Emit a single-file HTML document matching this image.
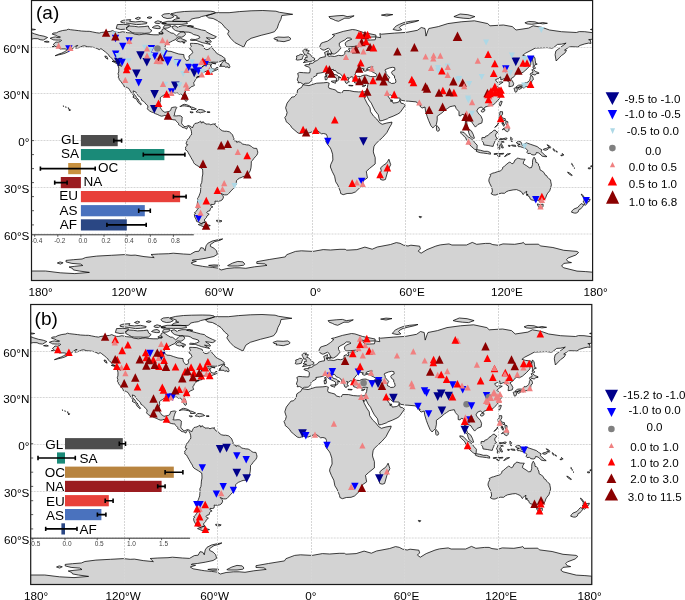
<!DOCTYPE html>
<html><head><meta charset="utf-8"><style>
html,body{margin:0;padding:0;background:#fff;}
body{width:685px;height:600px;overflow:hidden;}
svg{display:block;font-family:"Liberation Sans",sans-serif;will-change:transform;}
</style></head><body>
<svg width="685" height="600" viewBox="0 0 685 600">
<defs><g id="land"><path d="M50.1,38.3L52.9,37.3L55.7,36.9L57.0,37.5L59.9,37.7L60.4,36.9L57.1,36.1L55.7,35.2L52.1,34.1L53.1,33.1L56.5,32.8L58.7,31.6L62.7,30.5L66.6,30.0L68.2,29.2L70.5,29.7L74.9,30.2L78.3,30.6L81.4,31.0L86.1,31.3L89.2,31.3L92.3,31.9L96.2,32.7L99.3,33.1L101.7,32.4L104.0,32.2L107.1,31.7L110.3,31.4L112.6,30.6L114.9,31.7L117.3,32.4L119.6,32.4L122.7,31.7L127.4,32.7L132.1,33.1L134.4,34.1L139.1,34.8L143.0,34.2L146.1,33.9L150.0,34.5L153.9,34.8L158.6,34.8L160.1,33.8L162.5,34.1L163.2,33.0L161.7,31.4L162.1,29.5L164.0,28.5L166.3,29.9L167.9,31.1L169.5,32.0L171.0,33.0L173.4,33.3L174.9,34.5L176.5,35.8L178.8,33.8L180.4,32.2L183.5,31.7L185.0,32.7L185.4,34.5L184.3,35.8L181.9,37.2L178.3,36.9L176.8,37.7L175.7,39.5L172.6,40.8L170.7,41.9L167.9,43.1L165.6,45.4L164.8,47.3L165.3,48.9L167.4,51.1L171.0,51.4L174.1,52.5L178.8,54.0L183.8,54.6L184.0,57.1L185.0,58.7L186.5,60.6L188.5,60.2L189.3,58.7L188.9,56.0L191.3,54.3L192.7,52.5L191.7,50.1L189.7,48.9L191.3,46.7L190.5,44.7L190.5,43.3L193.6,43.4L197.5,43.6L200.6,44.7L203.0,45.4L203.7,47.8L205.3,49.2L206.9,49.7L209.2,48.9L210.8,47.3L211.7,46.5L213.1,49.3L215.4,51.4L216.2,52.9L218.6,54.5L221.7,55.9L223.2,57.1L225.1,58.5L224.8,59.8L223.1,60.4L219.3,61.8L216.2,62.3L213.1,62.1L210.0,62.3L208.4,62.6L206.9,63.7L205.0,64.3L203.4,65.7L201.7,67.3L203.7,66.0L205.6,64.9L208.4,64.0L211.5,64.1L212.0,64.5L211.1,65.2L210.0,65.7L211.1,66.3L211.4,67.3L211.9,68.4L213.1,68.8L215.4,69.3L216.2,67.7L217.9,67.4L218.6,68.8L217.0,69.8L213.9,71.0L211.5,72.1L209.7,72.7L209.0,71.5L211.5,69.9L210.4,70.1L209.2,70.1L207.6,70.8L206.1,71.3L204.5,71.9L202.7,72.6L201.9,73.6L202.0,74.1L201.4,74.6L202.2,75.4L203.0,75.1L203.0,75.5L202.0,75.8L200.8,76.0L199.1,76.3L197.2,76.9L196.7,77.4L196.7,78.5L196.0,79.3L195.3,79.9L195.0,80.5L194.4,81.9L193.6,82.8L193.8,83.6L194.4,85.5L193.2,86.1L191.3,86.7L190.5,87.7L188.6,88.8L187.4,89.5L185.8,90.6L185.2,92.2L185.4,94.1L186.5,96.2L187.2,99.0L187.1,100.6L186.6,101.2L185.7,101.2L184.7,99.7L184.0,98.7L183.2,97.5L183.0,96.1L181.8,94.4L180.7,93.8L179.1,94.2L177.7,93.1L175.7,93.3L174.6,93.1L172.7,93.3L172.4,93.8L173.0,94.8L172.7,95.3L171.0,95.2L169.5,94.5L167.9,94.4L165.9,94.2L164.3,94.7L163.2,95.6L161.5,96.6L160.4,97.5L160.3,99.2L160.6,100.3L160.0,102.3L159.8,105.4L160.4,107.8L161.7,109.6L162.3,110.7L164.0,111.7L164.8,112.3L167.1,111.8L169.0,111.5L170.6,110.4L171.2,108.7L171.3,107.8L172.9,107.3L174.9,107.0L176.3,107.0L176.8,107.6L175.9,109.0L175.5,110.3L175.1,111.7L174.6,113.1L174.5,114.9L173.7,115.7L174.9,115.9L176.6,115.9L178.8,115.7L180.7,115.9L182.2,117.1L182.1,118.7L181.9,121.0L181.6,122.6L181.8,123.7L182.7,124.9L184.0,126.2L185.0,126.8L186.6,126.3L188.2,125.5L189.7,125.9L191.4,126.9L192.4,128.0L193.3,126.0L194.2,124.4L194.9,123.5L196.3,123.2L197.8,122.9L199.4,122.0L200.6,121.2L201.3,122.1L200.9,122.9L202.5,122.6L203.0,121.5L203.6,122.6L205.5,123.5L205.8,124.1L207.6,124.0L209.2,124.0L210.8,124.8L211.9,124.3L213.1,124.0L215.0,124.0L215.6,123.8L214.7,124.4L215.4,125.1L217.0,127.1L218.6,127.3L219.6,128.7L220.9,129.9L222.4,130.8L224.8,131.3L226.3,131.2L227.9,131.5L229.5,131.9L231.0,133.2L231.8,134.0L232.6,135.0L233.4,137.4L234.1,138.9L233.4,140.5L234.9,140.8L236.5,141.0L236.8,142.5L238.0,141.6L240.4,142.2L242.7,144.1L244.3,144.4L246.6,144.9L248.9,145.0L251.3,146.4L252.8,147.7L254.1,148.3L256.7,148.4L257.4,150.6L257.8,152.2L257.5,153.7L256.7,155.3L255.2,156.9L253.9,158.4L252.5,160.4L251.3,161.5L251.3,163.9L251.0,167.8L250.2,170.9L248.9,172.9L248.2,174.8L246.6,176.2L244.7,176.3L242.7,176.8L241.1,177.6L239.6,178.1L238.0,179.1L236.5,180.7L236.3,182.6L236.0,184.9L234.4,186.5L233.4,188.5L231.8,190.1L230.2,191.9L228.7,193.5L227.6,194.6L226.3,194.9L224.3,194.9L222.4,194.1L221.0,193.5L222.8,195.5L223.5,197.1L222.8,198.9L222.0,200.0L220.1,201.0L216.2,201.3L215.0,201.0L215.1,202.8L214.7,204.1L213.1,204.5L210.8,204.4L210.8,205.9L212.0,206.3L212.9,207.0L211.5,207.4L210.3,208.8L210.0,210.6L207.6,211.4L206.7,212.6L207.6,213.4L209.2,214.2L206.9,216.1L206.4,217.6L205.3,218.7L204.2,220.0L205.5,222.0L203.7,222.3L202.2,222.8L201.4,223.9L200.6,223.1L199.1,222.3L196.7,221.5L196.0,219.2L194.7,216.9L194.4,214.5L195.5,213.4L194.4,213.0L196.0,211.4L197.2,209.8L198.3,208.3L198.6,206.7L197.5,205.6L197.2,204.4L197.5,202.1L197.8,199.7L197.5,198.5L198.3,197.4L199.1,195.8L199.9,193.5L200.5,191.9L200.6,189.6L200.9,187.2L200.6,184.9L201.7,182.6L202.0,180.2L202.2,177.1L202.8,174.0L202.7,170.9L202.5,169.0L200.8,167.9L199.1,166.7L196.7,165.3L194.9,164.2L193.6,162.6L193.2,161.2L191.9,159.2L191.0,157.6L189.7,155.3L188.2,152.7L187.4,151.1L185.5,149.8L185.7,148.3L185.4,147.2L186.9,145.8L187.7,144.6L186.9,144.6L186.0,143.9L186.5,142.1L187.1,141.0L187.4,139.6L188.6,138.8L189.3,137.9L189.7,136.6L191.3,135.0L191.6,133.5L191.4,131.2L190.8,129.3L190.0,127.7L188.8,126.5L188.0,126.8L187.2,127.6L186.8,129.1L185.7,128.5L184.6,127.9L183.0,127.6L181.8,127.1L180.4,125.7L179.3,125.2L178.5,124.6L178.5,123.4L177.3,122.1L175.7,120.6L175.4,119.8L174.1,119.9L172.1,119.5L170.2,118.8L168.4,117.9L166.7,116.2L164.9,115.3L163.2,115.9L161.7,116.2L159.6,115.6L157.8,114.6L155.4,113.7L153.4,112.6L151.5,112.0L149.7,111.0L148.4,110.1L147.3,108.7L148.0,107.0L147.5,105.4L146.2,104.3L144.5,102.3L143.3,101.1L141.7,100.3L141.4,98.7L139.7,97.2L138.1,95.6L137.1,94.1L135.7,91.9L133.2,90.9L133.3,92.5L133.9,94.1L135.7,95.8L136.4,97.5L138.1,99.0L138.8,100.8L139.7,102.3L140.8,103.3L141.4,104.3L140.6,104.8L139.7,103.7L138.0,102.3L137.2,100.8L136.7,99.2L134.1,98.0L132.8,97.0L134.1,96.1L132.8,94.5L131.6,93.1L130.5,91.4L129.6,89.9L128.9,88.6L127.5,87.8L126.9,87.5L125.8,86.9L124.1,86.6L123.8,85.2L122.1,83.5L121.3,82.1L120.7,81.3L119.3,79.7L119.0,78.2L118.2,77.5L118.7,75.5L118.0,73.8L118.7,71.9L118.8,68.8L118.5,66.9L117.7,65.1L119.6,65.5L120.7,65.7L121.3,66.5L121.0,64.9L120.2,64.1L119.9,63.4L118.0,62.6L116.5,61.8L114.1,61.0L112.9,59.8L111.8,58.2L110.3,57.1L109.0,55.9L108.7,54.8L107.1,53.5L105.6,52.1L104.0,50.9L102.5,49.7L100.9,48.6L99.3,49.7L97.8,48.9L95.4,47.8L93.1,47.3L90.8,47.0L87.7,46.8L84.5,45.8L82.2,46.2L80.6,47.0L78.3,47.8L75.7,48.2L76.3,47.0L77.8,45.4L76.0,45.8L74.7,47.0L72.9,48.1L72.1,49.3L69.7,50.4L68.2,51.7L65.8,52.9L63.5,53.7L61.2,54.3L58.8,54.8L56.8,55.3L55.2,55.7L57.3,54.8L59.6,53.7L61.9,53.1L64.3,51.8L66.2,50.7L67.4,49.5L65.1,48.9L61.9,48.9L59.9,49.0L59.3,47.8L57.3,47.3L55.2,46.4L54.3,45.3L53.2,44.5L54.9,43.1L55.7,42.0L58.0,42.2L60.4,41.5L61.5,40.3L60.5,40.0L58.4,40.1L55.7,40.0L53.1,39.8L52.1,39.1ZM216.1,12.7L229.1,12.7L239.3,11.6L251.1,10.8L262.8,10.5L275.9,11.2L279.5,12.3L292.7,14.3L281.8,15.5L280.9,19.3L278.7,23.6L277.3,28.0L274.5,31.7L270.0,33.1L261.2,35.3L251.1,38.3L246.6,41.2L243.8,47.0L240.8,45.6L234.9,42.6L230.7,38.3L227.6,33.9L229.1,31.0L225.4,28.0L221.8,23.6L217.5,20.7L213.1,18.5L208.7,17.9L206.1,15.8L212.3,14.0ZM273.9,38.4L277.8,37.0L284.0,37.3L288.7,36.9L291.0,38.7L289.5,40.1L284.0,41.7L279.3,41.1L276.7,40.9L277.8,40.0L274.7,39.4ZM216.4,36.7L213.1,35.3L210.0,33.8L206.9,32.2L205.2,30.6L201.4,29.9L197.5,28.8L191.3,27.2L190.5,25.8L187.4,25.7L182.7,25.7L178.8,26.7L178.0,27.5L174.9,25.7L171.8,26.7L173.4,29.1L175.7,30.6L178.8,31.4L181.2,31.6L184.3,32.0L188.9,32.2L191.3,33.0L193.6,34.5L196.7,35.3L199.1,36.1L199.9,37.7L197.5,38.9L195.2,39.5L191.3,39.2L190.2,40.0L192.1,40.5L196.0,40.3L199.1,41.5L202.2,42.6L205.3,43.3L208.4,44.0L210.4,44.4L208.4,43.0L205.3,41.2L208.4,41.5L210.8,42.3L211.4,41.9L210.0,40.0L208.4,39.2L206.4,37.7L210.0,38.1L213.1,38.7L215.4,37.7ZM126.6,27.5L129.6,26.0L134.2,26.3L138.3,26.9L144.1,26.6L148.3,26.0L149.4,28.9L152.0,30.6L149.4,33.0L144.7,33.3L141.4,33.1L135.3,33.1L132.4,32.7L129.6,31.0L126.6,29.5ZM116.2,28.5L117.3,24.6L123.7,24.3L129.6,25.0L127.2,27.2L124.7,29.2L120.8,29.5ZM120.8,21.3L123.7,20.2L130.7,19.6L129.6,21.3L135.3,21.9L141.3,21.3L147.0,22.5L146.6,23.6L141.3,24.3L136.4,24.6L129.6,23.5L123.7,22.8L120.8,22.2ZM135.3,18.5L138.3,17.2L140.6,18.0L138.3,19.6ZM154.7,22.1L157.8,20.8L161.7,21.8L159.3,23.6L155.4,23.2ZM152.3,27.5L154.7,26.0L157.8,25.5L160.1,26.7L160.1,28.6L157.0,28.6L153.9,28.0ZM163.2,27.5L164.8,25.2L170.2,25.2L171.0,26.4L167.9,28.0L164.8,28.3ZM161.7,22.8L167.9,21.3L174.9,21.3L181.2,21.3L186.6,21.8L187.4,23.6L181.9,24.4L174.1,24.4L167.9,24.3L164.0,23.6ZM172.6,21.3L182.7,21.6L188.9,21.4L190.5,20.5L191.3,19.1L195.2,18.2L199.1,17.7L201.4,16.6L206.1,15.5L209.2,14.7L212.3,13.8L215.4,12.7L214.7,11.9L210.8,11.2L203.0,11.0L192.1,11.2L184.3,11.5L176.5,12.4L171.0,13.8L174.1,15.1L177.3,16.1L176.5,17.4L179.6,18.2L175.7,19.0L173.4,20.0ZM161.7,15.5L164.0,14.0L169.5,13.5L171.8,15.1L174.1,16.6L171.0,18.2L167.1,18.5L163.2,17.4ZM176.5,40.5L178.0,38.4L180.4,38.0L181.9,38.9L185.0,40.0L186.6,41.1L183.5,41.2L180.4,42.0L178.0,41.4ZM158.6,33.0L160.9,31.7L162.5,32.4L162.8,33.6L160.1,33.8ZM147.0,17.7L149.2,16.8L152.0,17.4L150.0,18.5ZM161.7,23.6L164.0,22.8L166.3,23.3L164.0,24.3ZM187.4,26.3L190.5,25.5L193.6,26.3L190.5,26.9ZM182.7,42.5L185.0,42.5L184.3,43.3ZM205.2,222.5L205.6,223.4L206.9,224.6L210.3,225.6L208.4,226.2L205.3,226.7L203.0,226.5L200.6,225.6L198.3,224.6L199.9,223.9L202.2,224.0L203.7,222.6ZM216.5,220.3L219.3,220.3L222.0,220.9L220.9,221.8L217.8,221.8L216.5,221.2ZM196.7,205.6L197.5,205.6L197.5,208.0L196.4,208.0ZM112.0,61.3L114.1,62.1L117.3,64.1L119.9,65.2L118.8,64.1L117.3,62.6L114.1,61.3ZM104.8,56.0L106.8,56.4L107.9,59.2L105.6,57.9ZM219.5,66.3L221.7,64.9L220.1,64.9L221.8,63.4L222.9,61.5L225.6,60.1L225.1,61.8L227.1,63.2L228.7,63.8L229.5,65.7L229.9,66.5L229.5,67.7L227.9,67.6L227.6,66.6L225.6,67.4L224.8,66.3L220.9,66.3ZM211.5,62.7L215.7,63.5L215.9,64.0L212.3,63.2ZM179.8,106.4L180.7,106.2L182.7,104.8L184.3,104.3L186.6,104.7L188.9,105.6L191.3,107.0L193.6,107.6L196.4,109.0L195.5,109.5L191.3,109.5L191.7,108.6L189.7,106.8L186.6,106.2L184.6,105.9L182.7,105.9L180.4,106.5ZM196.1,111.8L198.6,109.5L200.6,109.5L203.1,110.0L205.5,111.5L203.7,112.0L201.4,112.5L200.5,112.9L198.6,112.3L196.1,112.0ZM190.0,111.8L193.2,112.1L193.0,112.6L191.3,112.8L190.0,112.1ZM207.2,111.7L209.8,111.8L209.8,112.5L207.3,112.5ZM196.7,77.2L199.9,76.5L200.0,76.6L197.5,77.2ZM69.1,109.0L70.5,109.8L69.6,111.0L69.0,110.0ZM592.5,32.7L584.8,31.7L579.3,31.6L576.3,32.5L561.4,31.7L549.5,30.0L542.1,27.4L533.2,25.8L528.7,28.1L516.0,30.0L512.3,26.6L503.4,25.0L490.0,25.8L487.7,23.6L474.4,20.8L461.2,21.8L447.8,23.6L438.3,26.6L428.8,28.5L428.0,30.3L426.0,36.1L425.0,28.5L421.3,27.5L417.4,30.3L406.2,32.4L394.6,33.1L381.4,34.2L379.8,33.6L380.6,37.7L375.9,36.9L375.2,39.8L370.5,40.0L365.8,40.0L362.7,36.1L368.1,37.2L375.9,36.9L375.9,35.0L363.5,32.5L355.7,29.9L352.3,29.5L343.2,31.4L335.4,33.8L332.3,34.5L334.6,35.6L331.5,38.4L327.6,41.1L323.7,42.3L321.4,43.1L319.8,46.2L320.6,48.6L323.0,50.1L324.5,50.0L328.4,48.1L329.2,48.6L330.4,50.6L332.3,54.0L334.3,54.0L337.5,52.1L340.9,48.1L339.3,45.4L339.3,43.1L341.7,41.5L344.8,40.0L347.1,38.0L350.2,38.0L351.8,39.2L347.1,41.1L345.2,43.1L345.6,45.4L347.1,47.0L351.0,46.7L356.5,46.2L359.1,47.2L355.7,47.8L350.7,47.9L348.7,48.6L348.7,49.7L349.4,49.8L349.6,51.7L347.9,51.7L347.3,50.6L344.8,51.7L344.8,52.5L344.9,53.7L343.2,55.3L341.2,55.7L338.5,55.3L334.6,56.5L330.7,56.0L329.2,56.4L327.9,55.7L327.3,54.8L328.1,52.5L328.4,50.6L324.5,52.5L325.3,54.8L325.3,56.8L323.0,57.1L319.5,58.1L318.6,59.5L317.5,60.2L316.1,60.9L314.9,61.0L314.4,62.1L312.2,63.4L309.6,63.1L309.7,64.8L307.4,64.5L304.7,65.1L305.3,66.0L308.2,66.8L310.2,68.5L310.0,71.2L309.6,72.9L307.4,72.9L303.5,72.7L299.6,72.4L297.6,73.5L298.2,75.1L298.3,76.6L297.2,80.0L298.3,81.3L298.0,82.8L300.4,82.5L302.2,83.6L303.3,84.4L305.2,83.3L308.9,83.2L310.5,81.9L311.3,80.8L312.4,80.0L311.6,78.9L313.3,77.1L315.5,76.0L317.0,75.1L316.7,73.5L320.3,73.0L323.4,72.4L325.9,71.3L327.3,71.8L328.4,73.5L329.2,74.4L331.2,75.5L334.3,76.9L336.4,78.2L336.4,81.3L337.8,80.7L338.9,79.7L338.5,77.4L340.9,78.0L340.1,77.1L338.4,76.5L337.3,75.2L333.9,74.3L333.1,72.6L331.2,71.2L331.2,69.8L333.4,69.3L333.6,70.7L335.4,70.4L337.0,72.7L339.3,73.5L340.3,74.1L341.7,75.1L342.4,76.6L342.3,78.2L343.5,78.9L344.8,80.5L345.6,82.8L347.1,83.6L347.9,82.1L349.4,81.8L347.9,80.5L348.7,78.9L347.4,77.4L349.4,78.2L351.0,76.8L352.6,76.9L353.3,77.9L352.9,78.9L353.8,80.5L354.6,82.8L356.5,83.3L358.8,84.1L359.9,83.0L362.7,84.2L365.8,83.2L368.5,83.5L367.8,84.7L367.4,87.5L366.4,89.9L365.5,91.7L362.4,91.9L358.6,91.9L354.1,91.6L349.4,90.6L343.4,90.5L341.7,93.3L337.0,91.9L335.7,90.0L332.6,89.2L329.2,88.3L328.4,86.7L329.2,83.2L327.9,82.8L327.3,82.4L323.7,82.8L316.7,83.2L311.1,84.9L308.9,85.6L303.0,84.7L301.5,87.5L300.2,88.1L297.6,89.9L297.1,93.1L295.7,95.3L294.1,96.9L291.9,97.0L289.5,100.0L287.1,103.1L285.6,107.8L286.3,110.1L287.1,112.5L286.3,115.6L284.8,117.6L285.9,120.2L286.0,121.5L287.9,123.0L290.7,125.7L291.5,127.4L294.1,129.7L298.0,133.0L300.2,133.6L304.3,132.4L308.9,133.0L312.1,131.8L313.9,131.0L317.3,130.5L321.4,133.8L323.7,133.5L326.4,134.3L327.3,136.6L326.9,140.5L325.8,141.6L327.6,144.4L330.4,148.0L331.2,149.8L332.6,154.2L332.9,160.0L330.7,164.7L330.4,167.0L332.3,171.7L334.6,176.2L335.7,181.8L337.8,185.1L339.3,188.8L340.4,191.6L340.7,193.5L343.2,194.7L347.1,193.5L351.9,193.3L355.5,191.9L360.4,187.1L362.7,184.9L362.9,181.0L367.4,177.9L367.4,177.7L366.6,173.2L366.3,171.4L369.6,168.4L375.2,163.9L375.2,157.6L373.6,153.0L373.3,151.1L373.9,146.7L375.2,144.4L378.3,141.3L382.6,137.4L386.8,132.7L389.2,128.0L391.5,124.1L392.0,122.1L386.8,123.0L382.2,124.3L379.4,122.6L376.7,119.0L373.6,116.2L370.5,111.7L370.0,107.8L367.4,103.9L365.0,99.2L362.9,93.9L364.3,96.6L365.5,97.3L366.6,94.5L367.4,96.9L368.9,100.0L371.3,103.1L373.1,107.0L375.2,110.9L378.3,114.8L379.1,118.7L379.8,120.9L382.2,120.6L387.6,118.7L388.6,117.9L393.1,116.2L397.8,114.0L400.1,112.5L405.2,105.4L403.4,103.7L400.9,103.1L399.9,99.4L399.3,101.5L397.0,102.6L393.1,103.1L392.5,101.5L392.3,100.0L391.5,99.8L391.2,101.9L390.3,99.4L386.8,94.5L387.6,93.8L389.2,93.8L390.7,95.0L391.2,95.5L393.9,97.8L399.8,98.1L401.3,100.3L406.5,101.1L408.7,101.2L416.5,101.9L417.2,103.1L418.8,103.9L421.1,105.4L419.6,105.7L421.9,108.1L425.0,107.0L425.5,110.9L427.1,116.3L428.6,120.4L430.9,125.7L432.8,127.9L434.4,126.5L436.4,124.4L437.2,120.2L437.2,116.3L440.3,114.0L441.9,112.9L445.0,110.1L447.3,108.6L450.0,106.7L452.3,106.2L455.1,105.7L456.2,108.6L459.0,111.7L459.0,115.6L460.9,115.9L462.0,114.3L464.1,114.8L465.5,120.2L465.2,124.9L465.2,128.0L468.3,130.4L468.7,132.7L469.9,135.8L473.3,138.5L474.4,138.2L473.2,134.3L471.3,130.8L468.3,128.8L467.1,124.9L466.6,121.0L468.7,119.5L469.4,120.7L471.8,121.8L472.6,123.4L475.4,127.1L478.0,124.4L481.9,122.9L482.4,119.5L481.1,116.3L480.7,115.6L479.6,114.8L478.0,112.8L476.8,110.9L478.3,108.2L481.1,107.0L483.8,108.9L485.0,107.0L488.1,106.2L490.0,105.7L493.6,104.8L495.9,102.3L498.3,100.0L499.8,97.6L502.0,94.1L501.9,92.2L500.6,90.6L499.8,88.3L497.8,86.3L499.5,84.4L503.1,82.2L500.6,81.8L497.5,82.5L495.9,80.5L495.5,79.7L498.3,78.5L500.6,76.9L500.9,80.0L504.5,78.5L506.1,78.6L506.8,80.5L509.2,82.1L509.2,84.4L508.9,86.7L511.5,86.3L513.1,85.8L513.7,83.6L512.4,81.0L510.7,78.9L514.2,76.6L515.6,74.4L517.6,73.3L520.1,73.8L523.2,72.2L527.1,68.8L530.7,64.9L531.0,61.0L532.5,58.2L531.8,57.1L526.3,56.4L522.7,55.3L525.5,53.2L531.0,50.4L535.2,48.1L547.0,47.6L552.0,48.2L553.6,47.6L557.5,44.4L561.4,44.2L566.1,43.1L562.2,46.1L555.9,50.9L555.1,54.8L556.2,61.0L559.2,57.9L561.4,55.6L564.8,53.2L566.5,50.4L564.5,50.1L568.7,47.3L570.7,46.7L577.7,47.0L580.1,45.4L584.8,43.9L588.6,43.1L591.0,43.4L590.2,40.0L588.6,39.7L592.5,39.2ZM31.6,32.7L34.7,33.9L39.3,35.3L44.0,36.2L47.6,37.5L46.4,38.3L43.2,40.1L40.1,39.7L37.8,38.7L33.9,38.6L31.6,39.2ZM590.4,29.5L592.5,28.9L592.5,30.0ZM31.6,28.9L35.5,29.5L33.1,30.0L31.6,30.0ZM328.9,16.6L337.0,15.8L343.2,15.4L347.1,16.6L354.1,15.8L349.4,18.2L344.8,18.2L338.5,21.3L335.4,20.5L333.1,19.3L330.0,18.2ZM393.1,29.5L394.6,27.5L396.2,26.0L399.3,24.4L404.0,22.5L410.2,21.3L418.8,20.5L414.9,21.8L408.7,23.2L404.0,24.4L400.9,26.0L399.3,27.5L401.7,29.9L397.8,30.5ZM453.9,16.6L460.1,14.0L467.9,14.7L474.9,16.6L469.4,18.6L463.2,18.2L457.0,17.4ZM524.9,22.8L528.7,21.4L534.9,21.8L539.1,23.3L531.8,24.3L527.1,23.9ZM539.1,23.2L542.7,22.5L547.4,23.3L542.7,23.9ZM381.4,15.1L386.8,14.1L392.8,14.6L386.8,16.0ZM533.3,55.9L534.9,57.9L535.2,60.2L535.7,63.7L537.2,64.1L535.2,64.5L534.1,66.5L535.7,68.0L534.1,68.8L533.0,68.0L533.3,65.7L533.0,62.6L532.5,59.5L533.0,57.1ZM531.8,69.8L533.3,69.6L535.7,71.6L538.8,72.7L538.8,73.5L536.4,73.6L535.2,75.1L532.5,74.3L531.0,75.8L530.2,74.3L531.0,73.0L532.5,73.0L532.9,71.2ZM531.6,75.8L532.5,76.3L533.2,78.2L533.3,79.7L531.8,80.8L531.6,82.8L531.3,84.9L530.2,86.0L529.9,85.8L529.0,85.6L528.3,86.6L526.3,86.6L525.2,86.9L524.3,87.8L523.7,88.3L522.7,87.1L521.2,86.4L519.3,86.9L517.7,87.7L516.2,87.5L516.2,86.7L518.5,85.2L520.9,85.0L523.2,85.2L524.3,84.1L525.2,82.4L526.0,82.8L527.9,82.1L529.4,80.5L530.1,78.9L530.2,77.4L530.7,76.3ZM514.3,88.1L516.2,87.7L517.4,89.1L517.0,91.4L515.7,92.2L514.9,91.7L514.6,89.9L514.0,88.8ZM518.5,89.1L517.7,87.7L520.1,87.1L521.8,87.2L522.0,87.8L520.9,88.5L519.3,89.4ZM500.6,101.2L502.2,101.5L501.4,103.9L500.3,106.2L499.4,105.0L499.2,103.4L500.3,101.9ZM481.3,110.6L482.7,109.2L484.6,109.2L485.0,110.0L484.2,111.4L482.7,112.1L481.4,111.7ZM500.0,111.7L502.5,111.7L502.6,114.0L501.4,115.9L502.2,117.9L505.3,118.7L505.3,120.9L503.7,120.2L501.9,119.0L500.0,118.4L499.0,117.4L498.7,115.1L499.7,114.8ZM502.2,129.6L504.5,128.0L506.1,127.3L507.6,125.2L509.2,127.3L508.9,130.4L507.6,131.8L505.3,130.7L504.2,128.8L502.5,129.7ZM506.1,121.0L507.9,121.8L507.6,124.6L506.4,124.9L505.7,123.0ZM502.2,122.1L503.7,122.7L502.9,124.1L502.0,124.0ZM503.4,123.5L504.5,124.1L504.0,126.3L502.8,125.2ZM494.7,127.4L497.5,124.6L498.4,122.9L498.0,124.6L495.5,127.1ZM499.5,119.5L501.1,119.6L501.1,121.3L500.1,121.0ZM481.9,137.7L482.8,137.4L485.0,137.7L485.5,136.3L488.1,135.5L489.7,133.5L492.0,132.2L493.6,130.4L495.2,130.1L495.9,131.2L497.8,132.4L496.2,133.5L495.5,135.0L495.9,136.9L497.5,138.6L495.9,139.3L495.2,140.5L494.4,142.8L493.6,144.4L493.1,146.4L490.5,146.0L488.1,145.5L485.8,145.2L483.8,144.9L483.5,142.8L482.4,141.3L481.9,139.7ZM460.6,131.8L464.0,132.4L465.9,134.6L468.5,137.1L470.2,137.9L473.3,140.5L474.9,142.8L477.2,145.2L476.9,149.5L474.9,149.7L473.3,148.0L471.5,146.7L469.4,144.4L468.3,142.1L466.6,140.2L465.7,137.9L464.0,136.1L462.4,134.7L460.9,133.2ZM476.0,151.1L477.2,149.7L480.7,150.3L484.1,151.3L487.4,151.3L490.3,152.5L490.5,154.2L487.4,153.6L483.5,153.1L480.3,152.7L478.0,152.0ZM494.1,153.7L497.5,153.4L497.2,154.2L494.2,154.5ZM498.7,153.7L503.7,153.3L503.4,154.1L498.9,154.2ZM504.5,156.6L507.1,153.9L510.4,153.6L507.6,155.0L505.3,156.4ZM497.5,155.3L500.3,155.8L499.8,156.6L497.5,155.8ZM498.1,149.1L499.8,149.2L499.7,145.2L500.6,144.6L501.9,148.0L503.4,147.8L502.2,145.2L501.1,143.3L502.9,141.9L504.2,142.1L501.4,141.3L500.0,139.7L503.7,139.1L506.1,139.7L507.1,138.2L505.7,138.0L502.9,138.9L500.3,138.5L499.0,139.7L498.7,141.3L498.0,143.3L497.2,144.9L498.3,146.0ZM510.7,137.1L511.8,138.2L512.6,138.9L511.5,140.0L512.3,141.7L511.2,141.3L510.7,139.3ZM511.5,145.0L515.4,145.3L515.9,146.4L512.3,146.0ZM508.4,145.3L510.3,145.5L510.0,146.4L508.6,146.3ZM516.2,142.8L518.5,141.1L520.9,141.9L522.4,145.6L526.3,142.8L530.2,144.2L534.1,145.5L537.2,146.6L539.3,148.3L541.9,149.8L541.1,151.7L542.7,153.0L545.0,155.3L547.0,156.6L545.0,156.7L541.9,156.1L541.4,155.3L538.8,153.0L536.4,152.5L535.7,154.5L534.1,155.0L531.8,154.7L530.2,153.3L527.9,153.6L526.8,152.2L527.9,150.6L525.5,148.3L522.4,147.4L520.1,146.6L518.5,146.7L517.7,144.9L520.1,144.4L518.1,143.9L516.5,142.8ZM543.5,149.1L546.6,148.3L548.9,147.0L549.2,148.1L548.1,149.2L545.8,150.3L543.5,149.8ZM547.0,144.7L549.7,146.0L550.8,147.5L550.2,148.0L548.1,146.0ZM567.6,172.0L569.9,173.2L572.3,175.3L571.5,175.6L568.4,173.5ZM588.3,167.8L590.5,167.9L590.2,168.9L588.3,168.7ZM67.9,107.9L69.0,108.1L68.3,108.4ZM65.4,106.8L66.3,107.2L65.7,107.3ZM63.0,105.9L63.8,106.1L63.3,106.4ZM44.3,41.7L47.1,41.1L49.2,41.9L47.1,42.3ZM52.1,46.7L54.2,46.4L54.0,47.2ZM553.0,148.6L555.0,150.3L554.5,151.3L553.3,149.8ZM560.8,155.0L562.6,155.3L562.2,155.9L560.9,155.6ZM562.3,153.4L563.9,155.0L563.4,155.3L562.3,154.1ZM555.9,150.8L557.5,151.9L557.0,152.2L555.9,151.4ZM571.7,163.4L572.6,164.2L572.1,164.8L571.5,164.2ZM572.6,165.3L573.5,165.9L573.1,166.4ZM574.2,167.8L574.8,168.1L574.3,168.4ZM590.7,165.9L592.4,165.7L591.8,166.7L590.8,166.7ZM419.1,216.4L421.6,216.7L420.8,217.8L419.6,217.5ZM581.2,194.1L583.2,195.5L584.4,197.8L585.5,198.2L586.3,199.2L587.9,199.6L590.2,199.2L589.4,201.3L587.9,201.7L587.6,203.1L585.2,205.3L584.3,204.9L584.3,202.8L582.9,201.7L584.1,200.7L584.0,198.2L582.1,195.8ZM581.2,203.6L583.7,204.7L583.2,205.9L581.6,207.8L580.9,208.8L579.0,209.5L578.2,211.9L576.2,213.1L574.3,213.1L571.5,212.2L572.0,210.9L573.8,209.1L577.7,207.5L579.3,205.6ZM489.9,174.5L490.6,175.6L489.1,178.7L488.8,181.0L489.7,183.4L491.3,186.5L492.3,189.9L492.3,192.4L491.3,192.9L491.3,193.9L493.7,195.0L495.9,195.0L498.3,193.9L501.4,193.2L504.5,193.3L506.1,191.9L508.4,190.8L513.1,189.9L516.5,189.6L518.5,190.4L521.2,191.6L523.2,194.6L524.0,193.5L525.5,191.9L526.8,191.3L526.3,193.2L526.6,195.4L527.9,194.7L527.4,193.9L527.9,196.0L529.4,196.6L530.2,198.9L531.0,199.7L533.3,200.3L535.7,201.0L537.2,200.2L538.0,200.5L540.0,201.4L541.9,200.0L545.0,198.9L545.8,197.4L546.6,195.0L547.7,193.2L549.7,190.8L550.6,188.0L551.4,184.9L550.8,181.8L550.5,179.8L548.9,178.7L547.4,177.1L546.6,175.6L545.0,174.8L543.9,172.4L541.9,170.9L540.0,169.8L539.6,167.0L538.6,165.4L538.5,163.9L537.2,162.8L535.8,162.3L535.7,160.0L534.1,157.2L533.3,158.4L532.7,160.1L532.5,162.3L532.5,164.7L531.5,167.6L529.4,167.8L526.8,165.9L524.8,164.7L523.2,163.6L523.7,161.5L524.9,159.5L525.2,159.2L523.7,159.2L520.9,159.0L518.8,158.4L517.4,158.0L516.2,159.5L514.9,160.1L513.8,162.8L512.0,163.9L510.7,162.5L509.2,162.2L508.1,163.1L506.1,164.7L504.5,166.2L502.6,167.5L502.5,168.9L500.6,170.9L497.5,171.7L494.4,172.8L492.8,173.1L490.8,174.2ZM537.4,203.9L539.6,204.5L543.1,204.2L543.1,206.3L541.9,207.8L539.6,208.3L538.3,206.4L537.5,204.9ZM388.9,159.2L390.7,164.7L389.5,167.0L387.6,171.7L386.1,177.1L385.4,179.5L383.0,180.2L380.6,179.5L379.5,175.6L380.3,173.2L381.2,170.9L380.6,167.8L383.7,165.1L386.1,163.6L387.6,161.5ZM436.6,125.4L438.3,126.9L439.5,129.3L439.1,130.7L437.5,131.3L436.7,130.4L436.4,128.0ZM304.3,49.2L307.4,49.2L305.8,50.7L309.2,50.7L308.2,52.5L307.4,53.2L309.6,54.0L311.3,55.6L312.2,57.1L314.7,58.4L314.4,60.2L312.8,61.0L309.7,61.5L306.6,62.1L303.3,62.6L305.5,60.7L307.4,60.4L305.3,59.9L303.9,59.8L305.3,58.7L305.3,57.4L307.4,57.3L306.9,56.2L306.6,54.9L304.6,55.1L304.3,54.0L303.5,52.5L302.7,50.9L303.9,49.7ZM302.4,54.5L300.4,54.3L298.8,55.4L296.5,56.0L296.8,57.9L296.0,59.5L297.2,60.1L299.6,59.8L302.2,59.2L302.7,57.4L303.5,55.6ZM325.5,73.5L326.9,73.5L326.9,76.0L325.8,75.7ZM324.8,76.6L326.9,76.3L327.3,78.2L326.9,79.6L325.3,79.9L325.1,78.2ZM331.4,81.1L332.8,81.0L336.4,80.8L335.6,82.4L335.4,83.3L334.3,82.8L331.7,81.9ZM348.7,85.2L353.0,85.5L352.6,86.0L350.2,85.8L348.8,85.6ZM362.4,85.8L364.3,85.5L366.0,84.9L365.0,86.0L363.5,86.6L362.4,86.4ZM329.2,53.4L331.7,53.1L331.5,54.3L330.0,54.6L329.2,54.0ZM327.3,54.0L329.0,53.9L328.7,54.8L327.6,54.6ZM31.0,271.0L45.6,271.0L60.2,272.8L74.8,273.6L89.4,272.4L79.2,271.0L73.3,269.9L72.6,268.5L69.0,267.0L74.8,266.3L82.8,265.5L80.6,264.1L71.9,263.4L66.0,261.9L66.0,260.4L73.3,259.7L82.1,259.0L85.7,257.5L96.7,256.1L111.3,255.3L124.4,254.6L131.0,255.3L135.2,255.1L144.0,256.6L154.2,257.6L151.0,254.5L158.6,254.0L168.8,253.7L173.2,253.2L183.4,254.0L190.3,254.4L195.1,251.6L199.0,251.2L200.8,247.7L203.4,248.1L205.1,250.8L206.0,245.9L207.8,243.3L212.1,241.1L217.4,239.8L222.7,238.9L220.0,240.3L214.8,241.6L210.4,244.6L210.4,246.4L213.9,248.1L216.5,250.8L217.4,254.3L213.9,256.5L206.0,258.2L198.1,259.5L192.9,260.0L192.0,260.6L196.4,261.3L191.1,263.0L193.8,264.8L202.5,266.3L205.0,266.7L212.3,267.4L218.1,268.1L221.1,270.0L226.9,268.5L234.2,267.8L240.0,267.8L245.8,268.3L254.6,266.8L267.0,265.4L264.8,263.9L256.8,263.5L256.8,261.7L269.2,259.5L285.3,256.9L286.7,254.7L295.5,251.4L301.3,250.8L313.0,251.4L323.2,249.6L330.5,250.0L340.0,249.3L345.2,249.3L346.7,250.2L356.9,249.6L364.9,247.1L372.2,249.2L377.3,247.0L390.5,244.5L396.3,242.6L400.0,243.3L403.6,245.2L408.0,246.0L410.9,245.2L419.7,246.2L420.4,248.9L418.2,251.1L421.1,253.2L427.0,249.6L435.8,246.1L440.2,244.9L449.0,243.9L451.9,245.0L466.5,245.0L472.3,242.4L476.7,244.3L485.5,243.4L489.9,243.4L492.8,244.6L498.6,245.3L503.0,243.9L514.7,244.3L522.0,243.1L523.4,242.4L524.9,244.3L538.6,244.2L540.3,245.9L552.9,247.5L563.8,250.3L577.0,251.4L578.6,252.5L575.9,255.0L568.2,257.9L566.5,259.6L568.2,261.8L571.5,262.6L563.8,263.4L561.6,266.1L563.8,267.8L577.0,271.1L585.7,271.6L592.6,272.2L592.6,281.0L31.0,281.0ZM57.3,263.0L60.0,261.9L63.1,262.8L60.5,264.1ZM208.6,265.4L214.0,264.9L219.2,265.2L219.2,266.1L213.0,266.3ZM227.6,265.6L232.7,263.0L237.8,261.4L243.0,261.9L244.8,264.1L243.7,265.2L237.8,266.0L229.1,266.0Z" fill="#D3D3D3" stroke="#000" stroke-width="0.75" stroke-linejoin="round"/><path d="M385.3,69.6L389.2,68.0L392.3,67.3L394.6,67.6L395.0,69.9L392.3,71.2L391.5,72.7L393.1,75.1L394.5,75.8L394.6,78.2L395.4,78.9L396.0,82.1L394.6,83.2L391.5,83.5L390.0,82.4L388.4,81.8L388.1,80.5L389.0,78.2L389.5,77.4L387.6,75.4L386.1,73.5L385.8,71.2L385.0,70.7ZM357.2,76.3L360.4,76.5L362.7,75.4L365.0,75.1L366.9,75.1L368.1,75.7L370.5,76.5L372.8,76.6L375.2,76.6L376.9,75.7L376.7,74.3L374.4,72.9L373.6,72.6L371.3,71.2L369.1,70.1L371.3,68.8L373.1,66.9L370.5,67.1L367.4,68.0L366.6,69.6L368.8,69.9L367.4,70.4L365.0,71.3L364.1,71.0L362.9,69.8L364.3,69.0L361.9,68.4L359.9,68.0L358.3,69.9L358.2,70.4L356.8,71.9L355.7,73.2L354.9,74.4L355.7,75.7Z" fill="#fff" stroke="#000" stroke-width="0.75" stroke-linejoin="round"/></g></defs>
<clipPath id="c0"><rect x="31.50" y="0.0" width="561.1" height="280.5"/></clipPath>
<g clip-path="url(#c0)">
<use href="#land" transform="translate(0.00,0)"/>
<path d="M125.5,1.0V281.0M218.5,1.0V281.0M312.5,1.0V281.0M405.5,1.0V281.0M498.5,1.0V281.0M31.5,47.5H592.6M31.5,93.5H592.6M31.5,140.5H592.6M31.5,187.5H592.6M31.5,234.0H592.6" stroke="#d6d6d6" stroke-width="1" stroke-dasharray="2,1" fill="none"/>
<polygon points="156.1,61.2 164.5,61.2 160.3,52.8" fill="#8B0000"/>
<polygon points="351.8,53.5 360.2,53.5 356.0,45.1" fill="#8B0000"/>
<polygon points="360.8,39.2 369.2,39.2 365.0,30.8" fill="#8B0000"/>
<polygon points="357.4,46.3 365.8,46.3 361.6,37.9" fill="#8B0000"/>
<polygon points="365.8,51.1 374.2,51.1 370.0,42.7" fill="#8B0000"/>
<polygon points="483.3,97.2 491.7,97.2 487.5,88.8" fill="#8B0000"/>
<polygon points="114.0,57.8 122.6,57.8 118.3,66.4" fill="#00008B"/>
<polygon points="132.1,69.4 140.7,69.4 136.4,78.0" fill="#00008B"/>
<polygon points="136.2,51.2 144.8,51.2 140.5,59.8" fill="#00008B"/>
<polygon points="142.5,58.0 151.1,58.0 146.8,66.6" fill="#00008B"/>
<polygon points="189.9,68.6 198.5,68.6 194.2,77.2" fill="#00008B"/>
<polygon points="171.0,81.6 179.6,81.6 175.3,90.2" fill="#00008B"/>
<polygon points="150.3,90.1 158.9,90.1 154.6,98.7" fill="#00008B"/>
<polygon points="150.0,105.0 158.6,105.0 154.3,113.6" fill="#00008B"/>
<polygon points="359.1,137.2 367.7,137.2 363.4,145.8" fill="#00008B"/>
<polygon points="511.5,57.6 520.1,57.6 515.8,66.2" fill="#00008B"/>
<polygon points="65.2,45.2 72.6,45.2 68.9,52.6" fill="#0000FF"/>
<polygon points="111.8,34.8 119.2,34.8 115.5,42.2" fill="#0000FF"/>
<polygon points="125.5,37.2 132.9,37.2 129.2,44.6" fill="#0000FF"/>
<polygon points="119.1,42.8 126.5,42.8 122.8,50.2" fill="#0000FF"/>
<polygon points="112.0,50.6 119.4,50.6 115.7,58.0" fill="#0000FF"/>
<polygon points="118.4,58.8 125.8,58.8 122.1,66.2" fill="#0000FF"/>
<polygon points="135.0,79.1 142.4,79.1 138.7,86.5" fill="#0000FF"/>
<polygon points="147.7,45.1 155.1,45.1 151.4,52.5" fill="#0000FF"/>
<polygon points="151.1,52.5 158.5,52.5 154.8,59.9" fill="#0000FF"/>
<polygon points="160.3,50.3 167.7,50.3 164.0,57.7" fill="#0000FF"/>
<polygon points="162.9,56.5 172.5,56.5 167.7,66.1" fill="#0000FF"/>
<polygon points="174.1,59.6 181.5,59.6 177.8,67.0" fill="#0000FF"/>
<polygon points="185.0,63.8 192.4,63.8 188.7,71.2" fill="#0000FF"/>
<polygon points="191.3,63.8 198.7,63.8 195.0,71.2" fill="#0000FF"/>
<polygon points="194.7,67.3 202.1,67.3 198.4,74.7" fill="#0000FF"/>
<polygon points="202.3,59.6 209.7,59.6 206.0,67.0" fill="#0000FF"/>
<polygon points="167.9,88.3 175.3,88.3 171.6,95.7" fill="#0000FF"/>
<polygon points="194.9,214.9 202.3,214.9 198.6,222.3" fill="#0000FF"/>
<polygon points="324.1,137.8 331.5,137.8 327.8,145.2" fill="#0000FF"/>
<polygon points="358.0,177.7 365.4,177.7 361.7,185.1" fill="#0000FF"/>
<polygon points="526.9,55.5 534.3,55.5 530.6,62.9" fill="#0000FF"/>
<polygon points="502.1,65.3 509.5,65.3 505.8,72.7" fill="#0000FF"/>
<polygon points="532.1,196.0 539.5,196.0 535.8,203.4" fill="#0000FF"/>
<polygon points="582.5,197.0 589.9,197.0 586.2,204.4" fill="#0000FF"/>
<polygon points="123.7,69.8 131.3,69.8 127.5,62.2" fill="#FF0000"/>
<polygon points="204.9,74.8 209.9,74.8 207.4,69.8" fill="#FF0000"/>
<polygon points="205.5,74.8 213.1,74.8 209.3,67.2" fill="#FF0000"/>
<polygon points="112.1,31.4 118.1,31.4 115.1,37.4" fill="#ADD8E6"/>
<polygon points="114.9,52.9 120.9,52.9 117.9,58.9" fill="#ADD8E6"/>
<polygon points="125.6,58.2 131.6,58.2 128.6,64.2" fill="#ADD8E6"/>
<polygon points="162.2,81.8 168.2,81.8 165.2,87.8" fill="#ADD8E6"/>
<polygon points="147.3,53.0 153.3,53.0 150.3,59.0" fill="#ADD8E6"/>
<polygon points="147.8,46.9 153.8,46.9 150.8,52.9" fill="#ADD8E6"/>
<polygon points="142.0,44.7 148.0,44.7 145.0,50.7" fill="#ADD8E6"/>
<polygon points="160.0,50.0 166.0,50.0 163.0,56.0" fill="#ADD8E6"/>
<polygon points="172.8,60.0 178.8,60.0 175.8,66.0" fill="#ADD8E6"/>
<polygon points="189.0,59.3 195.0,59.3 192.0,65.3" fill="#ADD8E6"/>
<polygon points="180.2,71.1 186.2,71.1 183.2,77.1" fill="#ADD8E6"/>
<polygon points="199.7,68.9 205.7,68.9 202.7,74.9" fill="#ADD8E6"/>
<polygon points="207.8,68.5 213.8,68.5 210.8,74.5" fill="#ADD8E6"/>
<polygon points="176.4,82.2 182.4,82.2 179.4,88.2" fill="#ADD8E6"/>
<polygon points="231.5,183.0 237.5,183.0 234.5,189.0" fill="#ADD8E6"/>
<polygon points="196.9,199.8 202.9,199.8 199.9,205.8" fill="#ADD8E6"/>
<polygon points="435.0,65.0 441.0,65.0 438.0,71.0" fill="#ADD8E6"/>
<polygon points="444.5,63.5 450.5,63.5 447.5,69.5" fill="#ADD8E6"/>
<polygon points="483.1,39.6 489.1,39.6 486.1,45.6" fill="#ADD8E6"/>
<polygon points="508.9,52.5 514.9,52.5 511.9,58.5" fill="#ADD8E6"/>
<polygon points="538.3,27.1 544.3,27.1 541.3,33.1" fill="#ADD8E6"/>
<polygon points="521.7,56.0 527.7,56.0 524.7,62.0" fill="#ADD8E6"/>
<polygon points="435.4,67.9 441.4,67.9 438.4,73.9" fill="#ADD8E6"/>
<polygon points="456.0,76.0 462.0,76.0 459.0,82.0" fill="#ADD8E6"/>
<polygon points="478.7,73.9 484.7,73.9 481.7,79.9" fill="#ADD8E6"/>
<polygon points="507.3,70.0 513.3,70.0 510.3,76.0" fill="#ADD8E6"/>
<polygon points="455.1,77.0 461.1,77.0 458.1,83.0" fill="#ADD8E6"/>
<polygon points="466.2,80.9 472.2,80.9 469.2,86.9" fill="#ADD8E6"/>
<polygon points="465.0,95.5 471.0,95.5 468.0,101.5" fill="#ADD8E6"/>
<polygon points="521.1,82.5 527.1,82.5 524.1,88.5" fill="#ADD8E6"/>
<polygon points="465.3,97.3 471.3,97.3 468.3,103.3" fill="#ADD8E6"/>
<polygon points="468.8,110.8 474.8,110.8 471.8,116.8" fill="#ADD8E6"/>
<polygon points="521.5,143.5 527.5,143.5 524.5,149.5" fill="#ADD8E6"/>
<circle cx="157.5" cy="48.5" r="3.3" fill="#808080"/>
<polygon points="199.1,64.9 206.7,64.9 202.9,57.3" fill="#FF0000"/>
<polygon points="55.5,48.7 61.7,48.7 58.6,42.5" fill="#F08080"/>
<polygon points="67.3,51.0 73.5,51.0 70.4,44.8" fill="#F08080"/>
<polygon points="126.2,44.1 132.4,44.1 129.3,37.9" fill="#F08080"/>
<polygon points="122.2,83.0 128.4,83.0 125.3,76.8" fill="#F08080"/>
<polygon points="159.9,86.9 166.1,86.9 163.0,80.7" fill="#F08080"/>
<polygon points="143.9,51.6 150.1,51.6 147.0,45.4" fill="#F08080"/>
<polygon points="143.9,58.6 150.1,58.6 147.0,52.4" fill="#F08080"/>
<polygon points="153.5,63.9 159.7,63.9 156.6,57.7" fill="#F08080"/>
<polygon points="157.2,64.3 163.4,64.3 160.3,58.1" fill="#F08080"/>
<polygon points="159.4,43.2 165.6,43.2 162.5,37.0" fill="#F08080"/>
<polygon points="164.1,45.2 170.3,45.2 167.2,39.0" fill="#F08080"/>
<polygon points="205.1,61.0 211.3,61.0 208.2,54.8" fill="#F08080"/>
<polygon points="183.4,73.1 189.6,73.1 186.5,66.9" fill="#F08080"/>
<polygon points="198.8,77.6 205.0,77.6 201.9,71.4" fill="#F08080"/>
<polygon points="198.4,65.0 204.6,65.0 201.5,58.8" fill="#F08080"/>
<polygon points="182.9,87.6 189.1,87.6 186.0,81.4" fill="#F08080"/>
<polygon points="183.9,91.1 190.1,91.1 187.0,84.9" fill="#F08080"/>
<polygon points="168.3,96.1 174.5,96.1 171.4,89.9" fill="#F08080"/>
<polygon points="234.7,154.9 240.9,154.9 237.8,148.7" fill="#F08080"/>
<polygon points="221.1,186.3 227.3,186.3 224.2,180.1" fill="#F08080"/>
<polygon points="219.4,192.1 225.6,192.1 222.5,185.9" fill="#F08080"/>
<polygon points="194.9,208.0 201.1,208.0 198.0,201.8" fill="#F08080"/>
<polygon points="197.5,215.7 203.7,215.7 200.6,209.5" fill="#F08080"/>
<polygon points="350.0,52.8 356.2,52.8 353.1,46.6" fill="#F08080"/>
<polygon points="342.9,60.1 349.1,60.1 346.0,53.9" fill="#F08080"/>
<polygon points="356.3,47.2 362.5,47.2 359.4,41.0" fill="#F08080"/>
<polygon points="360.3,54.4 366.5,54.4 363.4,48.2" fill="#F08080"/>
<polygon points="368.7,71.4 374.9,71.4 371.8,65.2" fill="#F08080"/>
<polygon points="383.9,95.9 390.1,95.9 387.0,89.7" fill="#F08080"/>
<polygon points="353.7,185.5 359.9,185.5 356.8,179.3" fill="#F08080"/>
<polygon points="359.6,187.0 365.8,187.0 362.7,180.8" fill="#F08080"/>
<polygon points="422.5,59.6 428.7,59.6 425.6,53.4" fill="#F08080"/>
<polygon points="430.5,58.6 436.7,58.6 433.6,52.4" fill="#F08080"/>
<polygon points="430.2,61.6 436.4,61.6 433.3,55.4" fill="#F08080"/>
<polygon points="437.2,58.7 443.4,58.7 440.3,52.5" fill="#F08080"/>
<polygon points="428.0,71.0 434.2,71.0 431.1,64.8" fill="#F08080"/>
<polygon points="444.7,70.1 450.9,70.1 447.8,63.9" fill="#F08080"/>
<polygon points="474.7,63.8 480.9,63.8 477.8,57.6" fill="#F08080"/>
<polygon points="444.6,78.0 450.8,78.0 447.7,71.8" fill="#F08080"/>
<polygon points="416.2,105.6 422.4,105.6 419.3,99.4" fill="#F08080"/>
<polygon points="501.8,72.3 508.0,72.3 504.9,66.1" fill="#F08080"/>
<polygon points="493.9,94.1 500.1,94.1 497.0,87.9" fill="#F08080"/>
<polygon points="486.4,99.6 492.6,99.6 489.5,93.4" fill="#F08080"/>
<polygon points="487.2,106.4 493.4,106.4 490.3,100.2" fill="#F08080"/>
<polygon points="469.0,105.3 475.2,105.3 472.1,99.1" fill="#F08080"/>
<polygon points="463.5,116.5 469.7,116.5 466.6,110.3" fill="#F08080"/>
<polygon points="504.5,128.6 510.7,128.6 507.6,122.4" fill="#F08080"/>
<polygon points="465.4,144.7 471.6,144.7 468.5,138.5" fill="#F08080"/>
<polygon points="537.4,209.4 543.6,209.4 540.5,203.2" fill="#F08080"/>
<polygon points="122.8,73.3 130.4,73.3 126.6,65.7" fill="#FF0000"/>
<polygon points="162.8,97.8 170.4,97.8 166.6,90.2" fill="#FF0000"/>
<polygon points="154.7,107.0 162.3,107.0 158.5,99.4" fill="#FF0000"/>
<polygon points="243.4,159.3 251.0,159.3 247.2,151.7" fill="#FF0000"/>
<polygon points="213.6,194.1 221.2,194.1 217.4,186.5" fill="#FF0000"/>
<polygon points="202.5,204.4 210.1,204.4 206.3,196.8" fill="#FF0000"/>
<polygon points="355.2,38.8 362.8,38.8 359.0,31.2" fill="#FF0000"/>
<polygon points="322.5,72.3 330.1,72.3 326.3,64.7" fill="#FF0000"/>
<polygon points="357.1,38.4 364.7,38.4 360.9,30.8" fill="#FF0000"/>
<polygon points="363.8,38.4 371.4,38.4 367.6,30.8" fill="#FF0000"/>
<polygon points="362.2,45.3 369.8,45.3 366.0,37.7" fill="#FF0000"/>
<polygon points="369.7,51.4 377.3,51.4 373.5,43.8" fill="#FF0000"/>
<polygon points="356.9,66.5 364.5,66.5 360.7,58.9" fill="#FF0000"/>
<polygon points="340.4,80.5 348.0,80.5 344.2,72.9" fill="#FF0000"/>
<polygon points="351.7,81.7 359.3,81.7 355.5,74.1" fill="#FF0000"/>
<polygon points="369.2,84.2 376.8,84.2 373.0,76.6" fill="#FF0000"/>
<polygon points="358.5,97.2 366.1,97.2 362.3,89.6" fill="#FF0000"/>
<polygon points="390.4,98.2 398.0,98.2 394.2,90.6" fill="#FF0000"/>
<polygon points="331.0,123.5 338.6,123.5 334.8,115.9" fill="#FF0000"/>
<polygon points="299.3,133.3 306.9,133.3 303.1,125.7" fill="#FF0000"/>
<polygon points="312.0,134.1 319.6,134.1 315.8,126.5" fill="#FF0000"/>
<polygon points="348.4,186.9 356.0,186.9 352.2,179.3" fill="#FF0000"/>
<polygon points="383.6,171.4 391.2,171.4 387.4,163.8" fill="#FF0000"/>
<polygon points="376.3,178.3 383.9,178.3 380.1,170.7" fill="#FF0000"/>
<polygon points="484.3,58.1 491.9,58.1 488.1,50.5" fill="#FF0000"/>
<polygon points="491.0,67.3 498.6,67.3 494.8,59.7" fill="#FF0000"/>
<polygon points="519.2,66.8 526.8,66.8 523.0,59.2" fill="#FF0000"/>
<polygon points="523.2,66.8 530.8,66.8 527.0,59.2" fill="#FF0000"/>
<polygon points="438.1,74.5 445.7,74.5 441.9,66.9" fill="#FF0000"/>
<polygon points="408.0,83.3 415.6,83.3 411.8,75.7" fill="#FF0000"/>
<polygon points="409.7,86.3 417.3,86.3 413.5,78.7" fill="#FF0000"/>
<polygon points="439.1,94.3 446.7,94.3 442.9,86.7" fill="#FF0000"/>
<polygon points="450.1,96.4 457.7,96.4 453.9,88.8" fill="#FF0000"/>
<polygon points="489.9,77.0 497.5,77.0 493.7,69.4" fill="#FF0000"/>
<polygon points="497.2,93.8 504.8,93.8 501.0,86.2" fill="#FF0000"/>
<polygon points="491.1,90.3 498.7,90.3 494.9,82.7" fill="#FF0000"/>
<polygon points="487.2,94.8 494.8,94.8 491.0,87.2" fill="#FF0000"/>
<polygon points="495.2,94.3 502.8,94.3 499.0,86.7" fill="#FF0000"/>
<polygon points="491.2,96.3 498.8,96.3 495.0,88.7" fill="#FF0000"/>
<polygon points="484.2,98.3 491.8,98.3 488.0,90.7" fill="#FF0000"/>
<polygon points="497.2,97.8 504.8,97.8 501.0,90.2" fill="#FF0000"/>
<polygon points="490.7,91.8 498.3,91.8 494.5,84.2" fill="#FF0000"/>
<polygon points="486.2,97.3 493.8,97.3 490.0,89.7" fill="#FF0000"/>
<polygon points="494.2,96.3 501.8,96.3 498.0,88.7" fill="#FF0000"/>
<polygon points="484.7,103.3 492.3,103.3 488.5,95.7" fill="#FF0000"/>
<polygon points="526.8,88.1 534.4,88.1 530.6,80.5" fill="#FF0000"/>
<polygon points="496.8,122.3 504.4,122.3 500.6,114.7" fill="#FF0000"/>
<polygon points="538.1,200.3 545.7,200.3 541.9,192.7" fill="#FF0000"/>
<polygon points="101.9,36.8 110.3,36.8 106.1,28.4" fill="#8B0000"/>
<polygon points="111.2,40.4 119.6,40.4 115.4,32.0" fill="#8B0000"/>
<polygon points="180.5,99.7 188.9,99.7 184.7,91.3" fill="#8B0000"/>
<polygon points="163.8,119.7 172.2,119.7 168.0,111.3" fill="#8B0000"/>
<polygon points="217.0,149.4 225.4,149.4 221.2,141.0" fill="#8B0000"/>
<polygon points="223.6,148.1 232.0,148.1 227.8,139.7" fill="#8B0000"/>
<polygon points="198.8,168.0 207.2,168.0 203.0,159.6" fill="#8B0000"/>
<polygon points="233.3,173.1 241.7,173.1 237.5,164.7" fill="#8B0000"/>
<polygon points="243.2,178.5 251.6,178.5 247.4,170.1" fill="#8B0000"/>
<polygon points="201.9,229.7 210.3,229.7 206.1,221.3" fill="#8B0000"/>
<polygon points="325.2,73.7 333.6,73.7 329.4,65.3" fill="#8B0000"/>
<polygon points="327.3,77.7 335.7,77.7 331.5,69.3" fill="#8B0000"/>
<polygon points="393.2,55.6 401.6,55.6 397.4,47.2" fill="#8B0000"/>
<polygon points="355.0,72.7 363.4,72.7 359.2,64.3" fill="#8B0000"/>
<polygon points="355.2,85.3 363.6,85.3 359.4,76.9" fill="#8B0000"/>
<polygon points="360.5,83.7 368.9,83.7 364.7,75.3" fill="#8B0000"/>
<polygon points="375.3,80.4 383.7,80.4 379.5,72.0" fill="#8B0000"/>
<polygon points="380.8,80.7 389.2,80.7 385.0,72.3" fill="#8B0000"/>
<polygon points="379.3,85.6 387.7,85.6 383.5,77.2" fill="#8B0000"/>
<polygon points="363.1,95.8 371.5,95.8 367.3,87.4" fill="#8B0000"/>
<polygon points="301.9,136.5 310.3,136.5 306.1,128.1" fill="#8B0000"/>
<polygon points="410.2,51.5 418.6,51.5 414.4,43.1" fill="#8B0000"/>
<polygon points="452.7,41.0 462.3,41.0 457.5,31.4" fill="#8B0000"/>
<polygon points="421.3,90.7 429.7,90.7 425.5,82.3" fill="#8B0000"/>
<polygon points="422.8,92.7 431.2,92.7 427.0,84.3" fill="#8B0000"/>
<polygon points="449.2,85.4 457.6,85.4 453.4,77.0" fill="#8B0000"/>
<polygon points="434.8,96.8 443.2,96.8 439.0,88.4" fill="#8B0000"/>
<polygon points="445.3,96.2 453.7,96.2 449.5,87.8" fill="#8B0000"/>
<polygon points="502.9,81.3 511.3,81.3 507.1,72.9" fill="#8B0000"/>
<polygon points="458.5,86.8 466.9,86.8 462.7,78.4" fill="#8B0000"/>
<polygon points="514.2,74.8 522.6,74.8 518.4,66.4" fill="#8B0000"/>
<polygon points="425.0,114.1 433.4,114.1 429.2,105.7" fill="#8B0000"/>
<polygon points="438.4,111.0 446.8,111.0 442.6,102.6" fill="#8B0000"/>
<polygon points="461.3,120.9 469.7,120.9 465.5,112.5" fill="#8B0000"/>
<polygon points="465.3,121.5 473.7,121.5 469.5,113.1" fill="#8B0000"/>
<polygon points="461.8,130.5 470.2,130.5 466.0,122.1" fill="#8B0000"/>
<polygon points="538.8,203.1 545.0,203.1 541.9,196.9" fill="#F08080"/>
<polygon points="461.1,89.2 467.3,89.2 464.2,83.0" fill="#F08080"/>
</g>
<rect x="31.50" y="0.5" width="561.1" height="280.0" fill="none" stroke="#1a1a1a" stroke-width="1.2"/>
<clipPath id="c304"><rect x="30.70" y="304.0" width="561.1" height="280.5"/></clipPath>
<g clip-path="url(#c304)">
<use href="#land" transform="translate(-0.80,304)"/>
<path d="M124.5,305.0V585.0M217.5,305.0V585.0M311.5,305.0V585.0M404.5,305.0V585.0M498.5,305.0V585.0M30.7,351.5H591.8M30.7,397.5H591.8M30.7,444.5H591.8M30.7,491.5H591.8M30.7,538.0H591.8" stroke="#d6d6d6" stroke-width="1" stroke-dasharray="2,1" fill="none"/>
<polygon points="156.9,351.8 165.5,351.8 161.2,360.4" fill="#00008B"/>
<polygon points="215.8,445.0 224.4,445.0 220.1,453.6" fill="#00008B"/>
<polygon points="222.3,443.7 230.9,443.7 226.6,452.3" fill="#00008B"/>
<polygon points="232.5,468.7 241.1,468.7 236.8,477.3" fill="#00008B"/>
<polygon points="242.4,474.2 251.0,474.2 246.7,482.8" fill="#00008B"/>
<polygon points="389.1,393.8 397.7,393.8 393.4,402.4" fill="#00008B"/>
<polygon points="298.2,429.2 306.8,429.2 302.5,437.8" fill="#00008B"/>
<polygon points="375.0,474.2 383.6,474.2 379.3,482.8" fill="#00008B"/>
<polygon points="433.4,392.3 442.0,392.3 437.7,400.9" fill="#00008B"/>
<polygon points="436.9,389.6 445.5,389.6 441.2,398.2" fill="#00008B"/>
<polygon points="444.3,391.7 452.9,391.7 448.6,400.3" fill="#00008B"/>
<polygon points="437.6,406.5 446.2,406.5 441.9,415.1" fill="#00008B"/>
<polygon points="460.5,425.8 469.1,425.8 464.8,434.4" fill="#00008B"/>
<polygon points="164.8,393.5 172.2,393.5 168.5,400.9" fill="#0000FF"/>
<polygon points="168.8,393.5 176.2,393.5 172.5,400.9" fill="#0000FF"/>
<polygon points="233.1,452.2 240.5,452.2 236.8,459.6" fill="#0000FF"/>
<polygon points="242.5,456.1 249.9,456.1 246.2,463.5" fill="#0000FF"/>
<polygon points="198.6,464.2 206.0,464.2 202.3,471.6" fill="#0000FF"/>
<polygon points="219.5,483.0 226.9,483.0 223.2,490.4" fill="#0000FF"/>
<polygon points="229.7,486.7 237.1,486.7 233.4,494.1" fill="#0000FF"/>
<polygon points="212.7,490.4 220.1,490.4 216.4,497.8" fill="#0000FF"/>
<polygon points="193.1,500.9 200.5,500.9 196.8,508.3" fill="#0000FF"/>
<polygon points="196.3,500.9 203.7,500.9 200.0,508.3" fill="#0000FF"/>
<polygon points="354.7,368.4 362.1,368.4 358.4,375.8" fill="#0000FF"/>
<polygon points="328.7,368.1 336.1,368.1 332.4,375.5" fill="#0000FF"/>
<polygon points="326.6,372.5 334.0,372.5 330.3,379.9" fill="#0000FF"/>
<polygon points="368.4,380.3 375.8,380.3 372.1,387.7" fill="#0000FF"/>
<polygon points="375.0,377.0 382.4,377.0 378.7,384.4" fill="#0000FF"/>
<polygon points="302.1,432.1 309.5,432.1 305.8,439.5" fill="#0000FF"/>
<polygon points="323.3,441.8 330.7,441.8 327.0,449.2" fill="#0000FF"/>
<polygon points="449.0,381.3 456.4,381.3 452.7,388.7" fill="#0000FF"/>
<polygon points="420.8,387.3 428.2,387.3 424.5,394.7" fill="#0000FF"/>
<polygon points="422.8,389.3 430.2,389.3 426.5,396.7" fill="#0000FF"/>
<polygon points="414.3,402.8 421.7,402.8 418.0,410.2" fill="#0000FF"/>
<polygon points="424.9,410.2 432.3,410.2 428.6,417.6" fill="#0000FF"/>
<polygon points="459.0,386.1 466.4,386.1 462.7,393.5" fill="#0000FF"/>
<polygon points="482.8,392.0 490.2,392.0 486.5,399.4" fill="#0000FF"/>
<polygon points="520.5,446.6 527.9,446.6 524.2,454.0" fill="#0000FF"/>
<polygon points="465.3,416.3 472.7,416.3 469.0,423.7" fill="#0000FF"/>
<polygon points="373.8,379.4 382.4,379.4 378.1,388.0" fill="#00008B"/>
<circle cx="363.6" cy="383.1" r="3.3" fill="#808080"/>
<circle cx="488.7" cy="397.3" r="3.3" fill="#808080"/>
<circle cx="466.6" cy="404.3" r="3.3" fill="#808080"/>
<polygon points="467.8,402.3 475.2,402.3 471.5,409.7" fill="#0000FF"/>
<polygon points="520.4,370.6 526.6,370.6 523.5,364.4" fill="#F08080"/>
<polygon points="350.0,385.3 357.6,385.3 353.8,377.7" fill="#FF0000"/>
<polygon points="490.7,372.3 498.3,372.3 494.5,364.7" fill="#FF0000"/>
<polygon points="501.5,376.3 509.1,376.3 505.3,368.7" fill="#FF0000"/>
<polygon points="118.4,370.6 124.6,370.6 121.5,364.4" fill="#F08080"/>
<polygon points="122.3,376.2 128.5,376.2 125.4,370.0" fill="#F08080"/>
<polygon points="158.1,347.0 164.3,347.0 161.2,340.8" fill="#F08080"/>
<polygon points="155.5,361.0 161.7,361.0 158.6,354.8" fill="#F08080"/>
<polygon points="203.4,377.1 209.6,377.1 206.5,370.9" fill="#F08080"/>
<polygon points="167.7,400.6 173.9,400.6 170.8,394.4" fill="#F08080"/>
<polygon points="182.0,392.4 188.2,392.4 185.1,386.2" fill="#F08080"/>
<polygon points="180.9,402.7 187.1,402.7 184.0,396.5" fill="#F08080"/>
<polygon points="218.1,496.2 224.3,496.2 221.2,490.0" fill="#F08080"/>
<polygon points="196.5,511.8 202.7,511.8 199.6,505.6" fill="#F08080"/>
<polygon points="356.9,341.7 363.1,341.7 360.0,335.5" fill="#F08080"/>
<polygon points="362.1,348.3 368.3,348.3 365.2,342.1" fill="#F08080"/>
<polygon points="355.4,351.2 361.6,351.2 358.5,345.0" fill="#F08080"/>
<polygon points="359.7,358.4 365.9,358.4 362.8,352.2" fill="#F08080"/>
<polygon points="368.0,375.7 374.2,375.7 371.1,369.5" fill="#F08080"/>
<polygon points="322.1,376.1 328.3,376.1 325.2,369.9" fill="#F08080"/>
<polygon points="326.1,377.2 332.3,377.2 329.2,371.0" fill="#F08080"/>
<polygon points="340.1,383.8 346.3,383.8 343.2,377.6" fill="#F08080"/>
<polygon points="352.6,385.0 358.8,385.0 355.7,378.8" fill="#F08080"/>
<polygon points="356.1,388.4 362.3,388.4 359.2,382.2" fill="#F08080"/>
<polygon points="381.3,384.0 387.5,384.0 384.4,377.8" fill="#F08080"/>
<polygon points="358.1,399.9 364.3,399.9 361.2,393.7" fill="#F08080"/>
<polygon points="362.9,398.9 369.1,398.9 366.0,392.7" fill="#F08080"/>
<polygon points="330.8,426.8 337.0,426.8 333.9,420.6" fill="#F08080"/>
<polygon points="311.9,437.7 318.1,437.7 315.0,431.5" fill="#F08080"/>
<polygon points="359.3,448.6 365.5,448.6 362.4,442.4" fill="#F08080"/>
<polygon points="348.1,490.0 354.3,490.0 351.2,483.8" fill="#F08080"/>
<polygon points="383.8,474.5 390.0,474.5 386.9,468.3" fill="#F08080"/>
<polygon points="410.2,354.4 416.4,354.4 413.3,348.2" fill="#F08080"/>
<polygon points="454.7,343.7 460.9,343.7 457.8,337.5" fill="#F08080"/>
<polygon points="421.6,363.6 427.8,363.6 424.7,357.4" fill="#F08080"/>
<polygon points="434.6,378.0 440.8,378.0 437.7,371.8" fill="#F08080"/>
<polygon points="444.2,374.3 450.4,374.3 447.3,368.1" fill="#F08080"/>
<polygon points="408.5,386.5 414.7,386.5 411.6,380.3" fill="#F08080"/>
<polygon points="409.4,389.2 415.6,389.2 412.5,383.0" fill="#F08080"/>
<polygon points="473.8,367.8 480.0,367.8 476.9,361.6" fill="#F08080"/>
<polygon points="491.3,371.1 497.5,371.1 494.4,364.9" fill="#F08080"/>
<polygon points="501.9,377.1 508.1,377.1 505.0,370.9" fill="#F08080"/>
<polygon points="503.3,384.3 509.5,384.3 506.4,378.1" fill="#F08080"/>
<polygon points="514.2,377.4 520.4,377.4 517.3,371.2" fill="#F08080"/>
<polygon points="520.1,392.6 526.3,392.6 523.2,386.4" fill="#F08080"/>
<polygon points="526.7,391.2 532.9,391.2 529.8,385.0" fill="#F08080"/>
<polygon points="458.9,388.6 465.1,388.6 462.0,382.4" fill="#F08080"/>
<polygon points="464.6,390.6 470.8,390.6 467.7,384.4" fill="#F08080"/>
<polygon points="490.9,395.1 497.1,395.1 494.0,388.9" fill="#F08080"/>
<polygon points="493.9,399.1 500.1,399.1 497.0,392.9" fill="#F08080"/>
<polygon points="487.9,401.1 494.1,401.1 491.0,394.9" fill="#F08080"/>
<polygon points="484.9,405.1 491.1,405.1 488.0,398.9" fill="#F08080"/>
<polygon points="496.9,397.1 503.1,397.1 500.0,390.9" fill="#F08080"/>
<polygon points="490.4,396.6 496.6,396.6 493.5,390.4" fill="#F08080"/>
<polygon points="486.9,400.6 493.1,400.6 490.0,394.4" fill="#F08080"/>
<polygon points="493.4,400.6 499.6,400.6 496.5,394.4" fill="#F08080"/>
<polygon points="495.9,403.1 502.1,403.1 499.0,396.9" fill="#F08080"/>
<polygon points="483.9,403.6 490.1,403.6 487.0,397.4" fill="#F08080"/>
<polygon points="495.9,402.1 502.1,402.1 499.0,395.9" fill="#F08080"/>
<polygon points="393.9,358.6 400.1,358.6 397.0,352.4" fill="#F08080"/>
<polygon points="482.9,404.1 489.1,404.1 486.0,397.9" fill="#F08080"/>
<polygon points="462.3,420.5 468.5,420.5 465.4,414.3" fill="#F08080"/>
<polygon points="496.6,425.8 502.8,425.8 499.7,419.6" fill="#F08080"/>
<polygon points="503.4,432.8 509.6,432.8 506.5,426.6" fill="#F08080"/>
<polygon points="351.2,482.7 358.6,482.7 354.9,490.1" fill="#0000FF"/>
<polygon points="54.1,353.3 61.7,353.3 57.9,345.7" fill="#FF0000"/>
<polygon points="65.1,356.1 72.7,356.1 68.9,348.5" fill="#FF0000"/>
<polygon points="111.5,343.3 119.1,343.3 115.3,335.7" fill="#FF0000"/>
<polygon points="118.4,354.2 126.0,354.2 122.2,346.6" fill="#FF0000"/>
<polygon points="124.1,348.5 131.7,348.5 127.9,340.9" fill="#FF0000"/>
<polygon points="113.4,363.4 121.0,363.4 117.2,355.8" fill="#FF0000"/>
<polygon points="113.0,370.1 120.6,370.1 116.8,362.5" fill="#FF0000"/>
<polygon points="122.8,370.1 130.4,370.1 126.6,362.5" fill="#FF0000"/>
<polygon points="162.7,349.9 170.3,349.9 166.5,342.3" fill="#FF0000"/>
<polygon points="141.9,356.3 149.5,356.3 145.7,348.7" fill="#FF0000"/>
<polygon points="157.2,356.8 164.8,356.8 161.0,349.2" fill="#FF0000"/>
<polygon points="142.5,361.3 150.1,361.3 146.3,353.7" fill="#FF0000"/>
<polygon points="149.5,363.4 157.1,363.4 153.3,355.8" fill="#FF0000"/>
<polygon points="155.2,370.0 162.8,370.0 159.0,362.4" fill="#FF0000"/>
<polygon points="160.3,363.9 167.9,363.9 164.1,356.3" fill="#FF0000"/>
<polygon points="171.7,370.6 179.3,370.6 175.5,363.0" fill="#FF0000"/>
<polygon points="204.1,365.5 211.7,365.5 207.9,357.9" fill="#FF0000"/>
<polygon points="196.2,370.1 203.8,370.1 200.0,362.5" fill="#FF0000"/>
<polygon points="201.5,371.4 209.1,371.4 205.3,363.8" fill="#FF0000"/>
<polygon points="187.3,371.0 194.9,371.0 191.1,363.4" fill="#FF0000"/>
<polygon points="181.3,375.4 188.9,375.4 185.1,367.8" fill="#FF0000"/>
<polygon points="190.1,376.7 197.7,376.7 193.9,369.1" fill="#FF0000"/>
<polygon points="197.5,379.5 205.1,379.5 201.3,371.9" fill="#FF0000"/>
<polygon points="205.9,379.3 213.5,379.3 209.7,371.7" fill="#FF0000"/>
<polygon points="133.7,390.5 141.3,390.5 137.5,382.9" fill="#FF0000"/>
<polygon points="158.5,391.0 166.1,391.0 162.3,383.4" fill="#FF0000"/>
<polygon points="159.7,393.8 167.3,393.8 163.5,386.2" fill="#FF0000"/>
<polygon points="175.4,393.1 183.0,393.1 179.2,385.5" fill="#FF0000"/>
<polygon points="162.4,401.4 170.0,401.4 166.2,393.8" fill="#FF0000"/>
<polygon points="162.7,422.8 170.3,422.8 166.5,415.2" fill="#FF0000"/>
<polygon points="182.8,396.2 190.4,396.2 186.6,388.6" fill="#FF0000"/>
<polygon points="201.4,508.3 209.0,508.3 205.2,500.7" fill="#FF0000"/>
<polygon points="193.2,512.5 200.8,512.5 197.0,504.9" fill="#FF0000"/>
<polygon points="195.8,520.4 203.4,520.4 199.6,512.8" fill="#FF0000"/>
<polygon points="194.1,526.4 201.7,526.4 197.9,518.8" fill="#FF0000"/>
<polygon points="201.6,533.1 209.2,533.1 205.4,525.5" fill="#FF0000"/>
<polygon points="363.0,342.4 370.6,342.4 366.8,334.8" fill="#FF0000"/>
<polygon points="356.2,348.1 363.8,348.1 360.0,340.5" fill="#FF0000"/>
<polygon points="349.0,357.3 356.6,357.3 352.8,349.7" fill="#FF0000"/>
<polygon points="365.4,354.7 373.0,354.7 369.2,347.1" fill="#FF0000"/>
<polygon points="356.3,370.2 363.9,370.2 360.1,362.6" fill="#FF0000"/>
<polygon points="382.4,400.6 390.0,400.6 386.2,393.0" fill="#FF0000"/>
<polygon points="451.5,343.7 459.1,343.7 455.3,336.1" fill="#FF0000"/>
<polygon points="429.8,363.3 437.4,363.3 433.6,355.7" fill="#FF0000"/>
<polygon points="429.5,366.3 437.1,366.3 433.3,358.7" fill="#FF0000"/>
<polygon points="437.4,378.3 445.0,378.3 441.2,370.7" fill="#FF0000"/>
<polygon points="442.8,383.1 450.4,383.1 446.6,375.5" fill="#FF0000"/>
<polygon points="453.6,387.5 461.2,387.5 457.4,379.9" fill="#FF0000"/>
<polygon points="448.7,400.4 456.3,400.4 452.5,392.8" fill="#FF0000"/>
<polygon points="483.6,362.1 491.2,362.1 487.4,354.5" fill="#FF0000"/>
<polygon points="519.9,367.3 527.5,367.3 523.7,359.7" fill="#FF0000"/>
<polygon points="525.4,367.3 533.0,367.3 529.2,359.7" fill="#FF0000"/>
<polygon points="536.5,337.6 544.1,337.6 540.3,330.0" fill="#FF0000"/>
<polygon points="489.0,380.9 496.6,380.9 492.8,373.3" fill="#FF0000"/>
<polygon points="476.8,384.4 484.4,384.4 480.6,376.8" fill="#FF0000"/>
<polygon points="505.7,380.9 513.3,380.9 509.5,373.3" fill="#FF0000"/>
<polygon points="485.7,410.8 493.3,410.8 489.5,403.2" fill="#FF0000"/>
<polygon points="460.9,424.9 468.5,424.9 464.7,417.3" fill="#FF0000"/>
<polygon points="463.8,449.2 471.4,449.2 467.6,441.6" fill="#FF0000"/>
<polygon points="535.7,514.4 543.3,514.4 539.5,506.8" fill="#FF0000"/>
<polygon points="581.4,508.3 589.0,508.3 585.2,500.7" fill="#FF0000"/>
<polygon points="146.4,349.8 153.8,349.8 150.1,357.2" fill="#0000FF"/>
<polygon points="369.6,354.7 375.8,354.7 372.7,348.5" fill="#F08080"/>
<polygon points="100.9,340.8 109.3,340.8 105.1,332.4" fill="#8B0000"/>
<polygon points="111.7,345.4 117.9,345.4 114.8,339.2" fill="#F08080"/>
<polygon points="111.0,363.3 119.4,363.3 115.2,354.9" fill="#8B0000"/>
<polygon points="120.0,387.5 128.4,387.5 124.2,379.1" fill="#8B0000"/>
<polygon points="153.1,356.8 161.5,356.8 157.3,348.4" fill="#8B0000"/>
<polygon points="135.6,363.4 144.0,363.4 139.8,355.0" fill="#8B0000"/>
<polygon points="144.8,364.3 153.2,364.3 149.0,355.9" fill="#8B0000"/>
<polygon points="142.1,369.8 150.5,369.8 146.3,361.4" fill="#8B0000"/>
<polygon points="150.6,368.9 159.0,368.9 154.8,360.5" fill="#8B0000"/>
<polygon points="161.8,370.9 170.2,370.9 166.0,362.5" fill="#8B0000"/>
<polygon points="183.4,375.2 191.8,375.2 187.6,366.8" fill="#8B0000"/>
<polygon points="195.0,377.1 203.4,377.1 199.2,368.7" fill="#8B0000"/>
<polygon points="178.1,382.4 186.5,382.4 182.3,374.0" fill="#8B0000"/>
<polygon points="188.8,381.3 197.2,381.3 193.0,372.9" fill="#8B0000"/>
<polygon points="131.1,381.7 139.5,381.7 135.3,373.3" fill="#8B0000"/>
<polygon points="171.1,394.4 179.5,394.4 175.3,386.0" fill="#8B0000"/>
<polygon points="149.3,402.7 157.7,402.7 153.5,394.3" fill="#8B0000"/>
<polygon points="153.3,411.5 161.7,411.5 157.5,403.1" fill="#8B0000"/>
<polygon points="149.3,417.4 157.7,417.4 153.5,409.0" fill="#8B0000"/>
<polygon points="340.9,364.9 349.3,364.9 345.1,356.5" fill="#8B0000"/>
<polygon points="377.8,389.9 386.2,389.9 382.0,381.5" fill="#8B0000"/>
<polygon points="357.7,492.1 366.1,492.1 361.9,483.7" fill="#8B0000"/>
<polygon points="435.2,363.7 443.6,363.7 439.4,355.3" fill="#8B0000"/>
<polygon points="426.0,375.8 434.4,375.8 430.2,367.4" fill="#8B0000"/>
<polygon points="481.3,350.5 489.7,350.5 485.5,342.1" fill="#8B0000"/>
<polygon points="507.3,363.7 515.7,363.7 511.5,355.3" fill="#8B0000"/>
<polygon points="510.6,370.2 519.0,370.2 514.8,361.8" fill="#8B0000"/>
<polygon points="467.0,422.6 475.4,422.6 471.2,414.2" fill="#8B0000"/>
<polygon points="530.3,507.9 538.7,507.9 534.5,499.5" fill="#8B0000"/>
<polygon points="536.8,504.5 545.2,504.5 541.0,496.1" fill="#8B0000"/>
<polygon points="537.0,507.5 544.6,507.5 540.8,499.9" fill="#FF0000"/>
</g>
<rect x="30.70" y="304.5" width="561.1" height="280.0" fill="none" stroke="#1a1a1a" stroke-width="1.2"/>
<rect x="80.9" y="135.0" width="36.8" height="11.2" fill="#4D4D4D"/>
<path d="M113.8,140.6H121.6M113.8,138.4V142.8M121.6,138.4V142.8" stroke="#000" stroke-width="1.6" fill="none"/>
<rect x="80.9" y="149.0" width="83.5" height="11.2" fill="#1A8A78"/>
<path d="M143.3,154.6H184.9M143.3,152.4V156.8M184.9,152.4V156.8" stroke="#000" stroke-width="1.6" fill="none"/>
<rect x="68.2" y="163.0" width="12.7" height="11.2" fill="#C8913F"/>
<path d="M40.4,168.6H95.2M40.4,166.4V170.8M95.2,166.4V170.8" stroke="#000" stroke-width="1.6" fill="none"/>
<rect x="60.8" y="177.0" width="20.1" height="11.2" fill="#9B1C20"/>
<path d="M54.7,182.6H67.1M54.7,180.4V184.8M67.1,180.4V184.8" stroke="#000" stroke-width="1.6" fill="none"/>
<rect x="80.9" y="191.0" width="99.2" height="11.2" fill="#E8403A"/>
<path d="M173.4,196.6H186.1M173.4,194.4V198.8M186.1,194.4V198.8" stroke="#000" stroke-width="1.6" fill="none"/>
<rect x="80.9" y="205.1" width="63.9" height="11.2" fill="#4A72BE"/>
<path d="M138.7,210.7H150.3M138.7,208.5V212.9M150.3,208.5V212.9" stroke="#000" stroke-width="1.6" fill="none"/>
<rect x="80.9" y="219.3" width="45.9" height="11.2" fill="#2A4784"/>
<path d="M106.9,224.9H146.2M106.9,222.7V227.1M146.2,222.7V227.1" stroke="#000" stroke-width="1.6" fill="none"/>
<path d="M31.5,234.8H193.8" stroke="#333" stroke-width="1"/>
<path d="M34.7,234.8v2M57.8,234.8v2M80.9,234.8v2M104.0,234.8v2M127.1,234.8v2M150.3,234.8v2M173.4,234.8v2" stroke="#333" stroke-width="0.8"/>
<path d="M31.5,140.6h2.5M31.5,154.6h2.5M31.5,168.6h2.5M31.5,182.6h2.5M31.5,196.6h2.5M31.5,210.7h2.5M31.5,224.9h2.5" stroke="#333" stroke-width="0.8"/>
<rect x="65.0" y="438.1" width="57.8" height="11.2" fill="#4D4D4D"/>
<path d="M119.3,443.7H125.5M119.3,441.5V445.9M125.5,441.5V445.9" stroke="#000" stroke-width="1.6" fill="none"/>
<rect x="57.0" y="452.4" width="8.0" height="11.2" fill="#1A8A78"/>
<path d="M38.0,458.0H75.3M38.0,455.8V460.2M75.3,455.8V460.2" stroke="#000" stroke-width="1.6" fill="none"/>
<rect x="65.0" y="466.6" width="108.8" height="11.2" fill="#B8843F"/>
<path d="M165.1,472.2H182.9M165.1,470.0V474.4M182.9,470.0V474.4" stroke="#000" stroke-width="1.6" fill="none"/>
<rect x="65.0" y="480.8" width="96.6" height="11.2" fill="#9B1C20"/>
<path d="M157.7,486.4H165.1M157.7,484.2V488.6M165.1,484.2V488.6" stroke="#000" stroke-width="1.6" fill="none"/>
<rect x="65.0" y="495.1" width="43.8" height="11.2" fill="#E8403A"/>
<path d="M105.2,500.7H113.1M105.2,498.5V502.9M113.1,498.5V502.9" stroke="#000" stroke-width="1.6" fill="none"/>
<rect x="65.0" y="509.0" width="36.4" height="11.2" fill="#4A72BE"/>
<path d="M97.4,514.6H105.9M97.4,512.4V516.8M105.9,512.4V516.8" stroke="#000" stroke-width="1.6" fill="none"/>
<rect x="61.4" y="523.3" width="3.6" height="11.2" fill="#2A4784"/>
<path d="M45.7,528.9H77.0M45.7,526.7V531.1M77.0,526.7V531.1" stroke="#000" stroke-width="1.6" fill="none"/>
<path d="M30.7,538.2H190.0" stroke="#333" stroke-width="1"/>
<path d="M32.8,538.2v2M65.0,538.2v2M97.2,538.2v2M129.4,538.2v2M161.6,538.2v2" stroke="#333" stroke-width="0.8"/>
<path d="M30.7,443.7h2.5M30.7,458.0h2.5M30.7,472.2h2.5M30.7,486.4h2.5M30.7,500.7h2.5M30.7,514.6h2.5M30.7,528.9h2.5" stroke="#333" stroke-width="0.8"/>
<polygon points="605.6,92.3 619.2,92.3 612.4,105.1" fill="#00008B"/>
<polygon points="607.7,110.0 617.1,110.0 612.4,119.6" fill="#0000FF"/>
<polygon points="610.1,128.3 615.1,128.3 612.6,133.9" fill="#ADD8E6"/>
<circle cx="612.4" cy="148.1" r="3.3" fill="#808080"/>
<polygon points="609.9,167.3 615.1,167.3 612.5,162.0" fill="#F08080"/>
<polygon points="607.7,185.4 617.1,185.4 612.4,176.2" fill="#FF0000"/>
<polygon points="606.0,203.8 619.2,203.8 612.6,190.2" fill="#8B0000"/>
<polygon points="605.0,389.7 618.0,389.7 611.5,402.6" fill="#00008B"/>
<polygon points="606.9,407.9 616.1,407.9 611.5,417.1" fill="#0000FF"/>
<circle cx="611.4" cy="429.0" r="3.3" fill="#808080"/>
<polygon points="608.8,448.1 614.0,448.1 611.4,443.1" fill="#F08080"/>
<polygon points="607.8,465.6 615.2,465.6 611.5,458.1" fill="#FF0000"/>
<polygon points="606.5,482.9 616.3,482.9 611.4,473.5" fill="#8B0000"/>
<polygon points="604.7,500.6 618.1,500.6 611.4,488.1" fill="#8B0000"/>

<g><text x="36.0" y="18.5" font-size="19.0" text-anchor="start" fill="#000">(a)</text>
<text x="34.6" y="325.4" font-size="19.0" text-anchor="start" fill="#000">(b)</text>
<text x="29.4" y="52.5" font-size="11.7" text-anchor="end" fill="#000">60°N</text>
<text x="29.4" y="99.3" font-size="11.7" text-anchor="end" fill="#000">30°N</text>
<text x="29.4" y="146.0" font-size="11.7" text-anchor="end" fill="#000">0°</text>
<text x="29.4" y="192.7" font-size="11.7" text-anchor="end" fill="#000">30°S</text>
<text x="29.4" y="239.5" font-size="11.7" text-anchor="end" fill="#000">60°S</text>
<text x="28.4" y="296.2" font-size="11.7" text-anchor="start" fill="#000">180°</text>
<text x="111.5" y="296.2" font-size="11.7" text-anchor="start" fill="#000">120°W</text>
<text x="204.8" y="296.2" font-size="11.7" text-anchor="start" fill="#000">60°W</text>
<text x="310.0" y="296.2" font-size="11.7" text-anchor="start" fill="#000">0°</text>
<text x="399.3" y="296.2" font-size="11.7" text-anchor="start" fill="#000">60°E</text>
<text x="490.9" y="296.2" font-size="11.7" text-anchor="start" fill="#000">120°E</text>
<text x="583.4" y="296.2" font-size="11.7" text-anchor="start" fill="#000">180°</text>
<text x="29.4" y="356.5" font-size="11.7" text-anchor="end" fill="#000">60°N</text>
<text x="29.4" y="403.3" font-size="11.7" text-anchor="end" fill="#000">30°N</text>
<text x="29.4" y="450.0" font-size="11.7" text-anchor="end" fill="#000">0°</text>
<text x="29.4" y="496.7" font-size="11.7" text-anchor="end" fill="#000">30°S</text>
<text x="29.4" y="543.5" font-size="11.7" text-anchor="end" fill="#000">60°S</text>
<text x="24.0" y="600.2" font-size="11.7" text-anchor="start" fill="#000">180°</text>
<text x="105.5" y="600.2" font-size="11.7" text-anchor="start" fill="#000">120°W</text>
<text x="200.3" y="600.2" font-size="11.7" text-anchor="start" fill="#000">60°W</text>
<text x="305.2" y="600.2" font-size="11.7" text-anchor="start" fill="#000">0°</text>
<text x="393.8" y="600.2" font-size="11.7" text-anchor="start" fill="#000">60°E</text>
<text x="485.2" y="600.2" font-size="11.7" text-anchor="start" fill="#000">120°E</text>
<text x="577.5" y="600.2" font-size="11.7" text-anchor="start" fill="#000">180°</text>
<text x="78.9" y="144.4" font-size="13.5" text-anchor="end" fill="#000">GL</text>
<text x="78.9" y="158.4" font-size="13.5" text-anchor="end" fill="#000">SA</text>
<text x="98.0" y="172.4" font-size="13.5" text-anchor="start" fill="#000">OC</text>
<text x="83.5" y="186.4" font-size="13.5" text-anchor="start" fill="#000">NA</text>
<text x="77.9" y="200.4" font-size="13.5" text-anchor="end" fill="#000">EU</text>
<text x="77.4" y="214.5" font-size="13.5" text-anchor="end" fill="#000">AS</text>
<text x="76.9" y="228.7" font-size="13.5" text-anchor="end" fill="#000">AF</text>
<text x="36.7" y="242.8" font-size="6.5" text-anchor="middle" fill="#444">-0.4</text>
<text x="59.8" y="242.8" font-size="6.5" text-anchor="middle" fill="#444">-0.2</text>
<text x="82.9" y="242.8" font-size="6.5" text-anchor="middle" fill="#444">0.0</text>
<text x="106.0" y="242.8" font-size="6.5" text-anchor="middle" fill="#444">0.2</text>
<text x="129.1" y="242.8" font-size="6.5" text-anchor="middle" fill="#444">0.4</text>
<text x="152.3" y="242.8" font-size="6.5" text-anchor="middle" fill="#444">0.6</text>
<text x="175.4" y="242.8" font-size="6.5" text-anchor="middle" fill="#444">0.8</text>
<text x="63.2" y="448.7" font-size="13.5" text-anchor="end" fill="#000">GL</text>
<text x="79.4" y="463.0" font-size="13.5" text-anchor="start" fill="#000">SA</text>
<text x="65.0" y="477.2" font-size="13.5" text-anchor="end" fill="#000">OC</text>
<text x="64.2" y="491.4" font-size="13.5" text-anchor="end" fill="#000">NA</text>
<text x="64.7" y="505.7" font-size="13.5" text-anchor="end" fill="#000">EU</text>
<text x="64.0" y="519.6" font-size="13.5" text-anchor="end" fill="#000">AS</text>
<text x="79.4" y="533.9" font-size="13.5" text-anchor="start" fill="#000">AF</text>
<text x="34.8" y="546.2" font-size="6.5" text-anchor="middle" fill="#444">-0.5</text>
<text x="67.0" y="546.2" font-size="6.5" text-anchor="middle" fill="#444">0.0</text>
<text x="99.2" y="546.2" font-size="6.5" text-anchor="middle" fill="#444">0.5</text>
<text x="131.4" y="546.2" font-size="6.5" text-anchor="middle" fill="#444">1.0</text>
<text x="163.6" y="546.2" font-size="6.5" text-anchor="middle" fill="#444">1.5</text>
<text x="652.5" y="103.0" font-size="11.6" text-anchor="middle" fill="#000">-9.5 to -1.0</text>
<text x="652.7" y="118.2" font-size="11.6" text-anchor="middle" fill="#000">-1.0 to -0.5</text>
<text x="652.9" y="135.4" font-size="11.6" text-anchor="middle" fill="#000">-0.5 to 0.0</text>
<text x="653.2" y="154.9" font-size="11.6" text-anchor="middle" fill="#000">0.0</text>
<text x="652.9" y="171.1" font-size="11.6" text-anchor="middle" fill="#000">0.0 to 0.5</text>
<text x="652.9" y="187.8" font-size="11.6" text-anchor="middle" fill="#000">0.5 to 1.0</text>
<text x="653.0" y="205.8" font-size="11.6" text-anchor="middle" fill="#000">1.0 to 6.8</text>
<text x="654.3" y="398.6" font-size="11.6" text-anchor="middle" fill="#000">-15.2 to -1.0</text>
<text x="654.6" y="413.8" font-size="11.6" text-anchor="middle" fill="#000">-1.0 to 0.0</text>
<text x="654.5" y="431.1" font-size="11.6" text-anchor="middle" fill="#000">0.0</text>
<text x="654.5" y="450.9" font-size="11.6" text-anchor="middle" fill="#000">0.0 to 1.0</text>
<text x="654.5" y="466.8" font-size="11.6" text-anchor="middle" fill="#000">1.0 to 2.0</text>
<text x="654.5" y="483.4" font-size="11.6" text-anchor="middle" fill="#000">2.0 to 3.0</text>
<text x="654.8" y="500.9" font-size="11.6" text-anchor="middle" fill="#000">3.0 to 11.5</text></g>
</svg>
</body></html>
